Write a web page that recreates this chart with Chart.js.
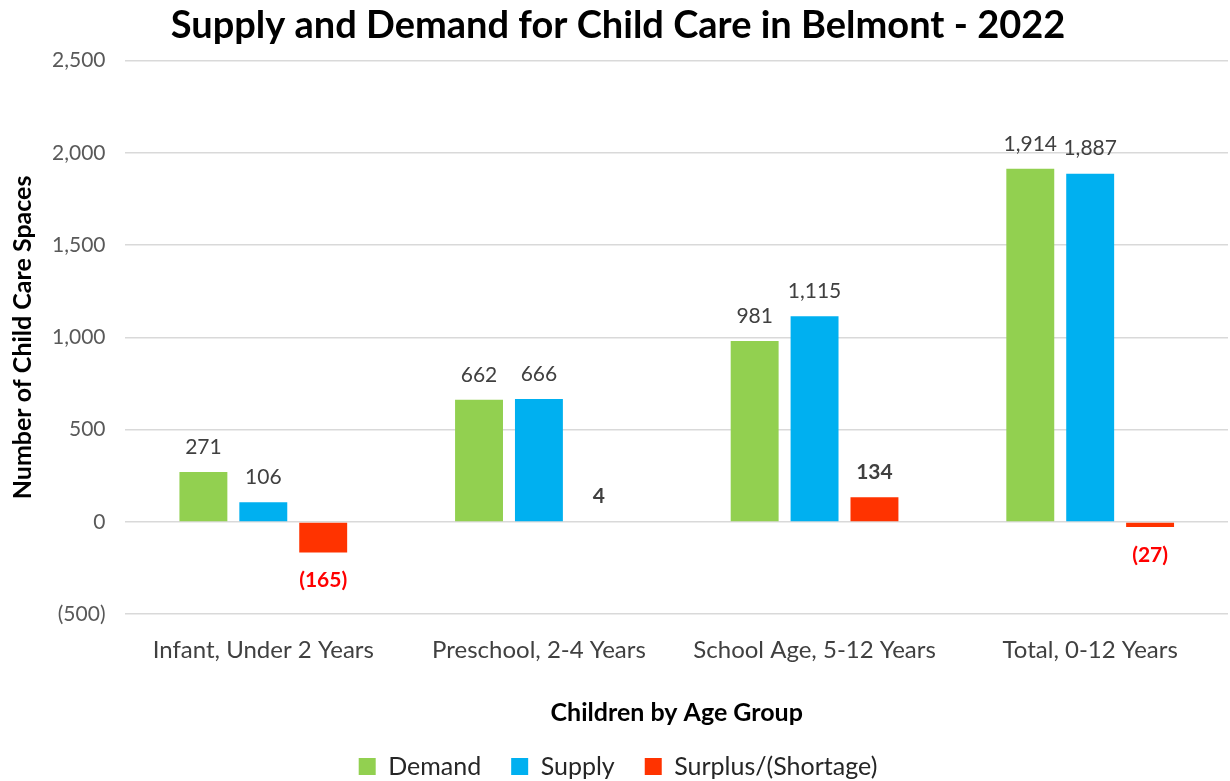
<!DOCTYPE html>
<html>
<head>
<meta charset="utf-8">
<script src="https://cdn.jsdelivr.net/npm/chart.js@4/dist/chart.umd.min.js"></script>
<style>
  html, body { margin: 0; padding: 0; background: #fff; }
  #wrap { width: 1230px; height: 781px; }
</style>
</head>
<body>
<div id="wrap"><canvas id="chart" width="1230" height="781"></canvas></div>
<script>
const categories = ['Infant, Under 2 Years', 'Preschool, 2-4 Years', 'School Age, 5-12 Years', 'Total, 0-12 Years'];
const demand = [271, 662, 981, 1914];
const supply = [106, 666, 1115, 1887];
const surplus = [-165, 4, 134, -27];

const FONT = 'Lato, "Open Sans", sans-serif';

function fmt(v) {
    const s = Math.abs(v).toLocaleString('en-US');
    return v < 0 ? `(${s})` : s;
}

// value labels above / below each bar
const barLabels = {
    id: 'barLabels',
    afterDatasetsDraw(chart) {
        const ctx = chart.ctx;
        ctx.save();
        ctx.textAlign = 'center';
        ctx.textBaseline = 'middle';
        chart.data.datasets.forEach((ds, di) => {
            const meta = chart.getDatasetMeta(di);
            meta.data.forEach((bar, i) => {
                const v = ds.data[i];
                const isSurplus = di === 2;
                ctx.font = `${isSurplus ? 'bold ' : ''}21px ${FONT}`;
                if (v < 0) {
                    ctx.fillStyle = '#ff0000';
                    ctx.fillText(fmt(v), bar.x, bar.y + 28);
                } else {
                    ctx.fillStyle = '#404040';
                    ctx.fillText(fmt(v), bar.x, bar.y - 25);
                }
            });
        });
        ctx.restore();
    }
};

// pull the legend a bit closer to the bottom edge
const legendFit = {
    id: 'legendFit',
    beforeInit(chart) {
        const orig = chart.legend.fit;
        chart.legend.fit = function () {
            orig.call(this);
            this.height -= 8;
        };
    }
};

new Chart(document.getElementById('chart'), {
    type: 'bar',
    data: {
        labels: categories,
        datasets: [
            { label: 'Demand', data: demand, backgroundColor: '#92d050' },
            { label: 'Supply', data: supply, backgroundColor: '#00b0f0' },
            { label: 'Surplus/(Shortage)', data: surplus, backgroundColor: '#ff3300' },
        ],
    },
    options: {
        responsive: false,
        animation: false,
        categoryPercentage: 0.652,
        barPercentage: 0.8,
        layout: { padding: { left: 8, right: 2, top: 0, bottom: 0 } },
        plugins: {
            title: {
                display: true,
                text: 'Supply and Demand for Child Care in Belmont - 2022',
                color: '#000',
                font: { family: FONT, size: 38, weight: 'bold' },
                padding: { top: 3, bottom: 12 },
            },
            legend: {
                position: 'bottom',
                labels: {
                    color: '#262626',
                    font: { family: FONT, size: 25 },
                    boxWidth: 17,
                    boxHeight: 17,
                    padding: 30,
                },
            },
            tooltip: { enabled: false },
        },
        scales: {
            x: {
                grid: { display: false },
                border: { display: false },
                ticks: { color: '#404040', font: { family: FONT, size: 24 }, padding: 14 },
                title: {
                    display: true,
                    text: 'Children by Age Group',
                    color: '#000',
                    font: { family: FONT, size: 25, weight: 'bold' },
                    padding: { top: 19, bottom: -4 },
                },
            },
            y: {
                min: -500,
                max: 2500,
                border: { display: false },
                grid: { color: '#d9d9d9', lineWidth: 1.5, drawTicks: true, tickLength: 14, tickColor: '#fff' },
                ticks: {
                    stepSize: 500,
                    color: '#595959',
                    font: { family: FONT, size: 21 },
                    padding: 6,
                    callback: (v) => fmt(v),
                },
                title: {
                    display: true,
                    text: 'Number of Child Care Spaces',
                    color: '#000',
                    font: { family: FONT, size: 25, weight: 'bold' },
                    padding: { top: 0, bottom: 8 },
                },
            },
        },
    },
    plugins: [barLabels, legendFit],
});
</script>
</body>
</html>
